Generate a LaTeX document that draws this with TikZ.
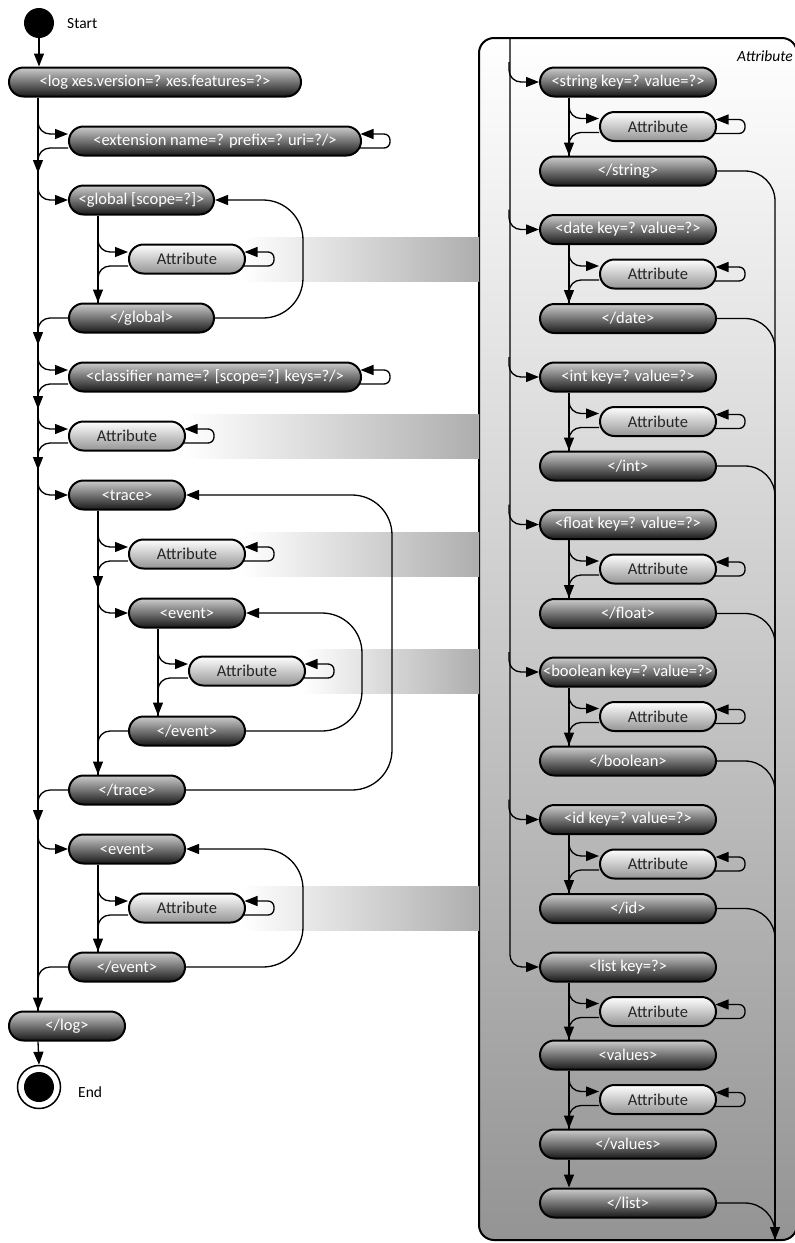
\documentclass[tikz,border=0pt]{standalone}
\usepackage{fontspec}
\setmainfont{Carlito}
\usetikzlibrary{arrows.meta,calc}
\pgfdeclarelayer{back}
\pgfdeclarelayer{bg}
\pgfsetlayers{back,bg,main}
\definecolor{bandgray}{gray}{0.68}
\newcommand\brin[2]{\draw[conn,arr] ($(#1.west)+(-30,#2-20)$) |- ($(#1.west)+(0,#2)$);}
\newcommand\brout[3]{\draw[conn,arr] ($(#1.west)+(0,#2)$) -| #3;}
\newcommand\selfloop[1]{\draw[conn,arr,rounded corners=6pt] ($(#1.east)+(-2,7)$) -- ++(30,0) -- ++(0,-14) -- ($(#1.east)+(-1.5,-7)$);}
\newcommand\bigloop[3]{\draw[conn,arr,rounded corners=40pt] (#2.east) -- (#2.east -| #3) -- (#1.east -| #3) -- (#1.east);}
\newcommand\band[2]{\shade[left color=white,right color=bandgray] (#1,#2-22) rectangle (479,#2+22);}
\begin{document}
\begin{tikzpicture}[x=1pt,y=-1pt,
 conn/.style={line width=1.3pt,rounded corners=12pt},
 arr/.style={-{Triangle[length=13pt,width=10pt]}},
 pill/.style={draw=black,line width=2pt,rounded corners=14.5pt,minimum height=29pt,inner sep=0pt,font=\fontsize{16.5}{19}\selectfont},
 dk/.style={pill,top color=black!20,bottom color=black!90,text=white},
 lt/.style={pill,top color=white,bottom color=black!42,text=black!85},
 wA/.style={minimum width=116pt}, wB/.style={minimum width=145pt},
 wC/.style={minimum width=292pt}, wD/.style={minimum width=176pt},
 lbl/.style={inner sep=0pt,font=\fontsize{15.5}{18}\selectfont}]
\useasboundingbox (0,0) rectangle (795,1243);

% ---------- left column nodes ----------
\node[circle,fill=black,minimum size=30pt,inner sep=0pt] (start) at (39,23) {};
\node[lbl,anchor=base west] (startlbl) at (67,28) {Start};
\node[dk,wC] (log) at (155,82) {<log xes.version=? xes.features=?>};
\node[dk,wC] (ext) at (215,141) {<extension name=? prefix=? uri=?/>};
\node[dk,wB] (glob) at (141.5,200) {<global [scope=?]>};
\node[lt,wA] (gattr) at (187,259) {Attribute};
\node[dk,wB] (gend) at (141.5,318) {</global>};
\node[dk,wC] (cls) at (215,377) {<classifier name=? [scope=?] keys=?/>};
\node[lt,wA] (lattr) at (127,436) {Attribute};
\node[dk,wA] (trace) at (127,495) {<trace>};
\node[lt,wA] (tattr) at (187,554) {Attribute};
\node[dk,wA] (tev) at (187,613) {<event>};
\node[lt,wA] (eattr) at (247,671) {Attribute};
\node[dk,wA] (tevend) at (187,731) {</event>};
\node[dk,wA] (traceend) at (127,790) {</trace>};
\node[dk,wA] (ev) at (127,849) {<event>};
\node[lt,wA] (evattr) at (187,908) {Attribute};
\node[dk,wA] (evend) at (127,967) {</event>};
\node[dk,wA] (logend) at (67,1026) {</log>};
\node[circle,draw=black,line width=1.5pt,fill=white,minimum size=43pt,inner sep=0pt] (end) at (39,1087) {};
\node[circle,fill=black,minimum size=30pt,inner sep=0pt] (endin) at (end.center) {};
\node[lbl,anchor=base west] (endlbl) at (78,1097) {End};

\coordinate (gx) at (303,0);
\coordinate (tx) at (392,0);
\coordinate (ex) at (362,0);
\coordinate (vx) at (303,0);
\coordinate (rtop) at (510,38);
\coordinate (rbot) at (775,1240);

% ---------- background: panel and bands ----------
\begin{pgfonlayer}{back}
\draw[line width=2pt,rounded corners=15pt,top color=white,bottom color=black!42] (479,38) rectangle (797,1240);
\band{242}{259}
\band{184}{436}
\band{242}{554}
\band{302}{671}
\band{242}{908}
\end{pgfonlayer}
\node[lbl,anchor=base east,font=\fontsize{15.5}{18}\selectfont\itshape] (plabel) at (793,61) {Attribute};

% ---------- right panel nodes ----------
\foreach \nm/\lab/\y in {string/string/82,date/date/229.5,int/int/377,float/float/524.5,boolean/boolean/672,id/id/819.5}{
  \node[dk,wD] (h\nm) at (628,\y) {<\lab\ key=? value=?>};
  \node[lt,wA] (a\nm) at (658,\y+44.5) {Attribute};
  \node[dk,wD] (c\nm) at (628,\y+89) {</\lab>};
  \begin{pgfonlayer}{bg}
  \brin{h\nm}{0}
  \draw[conn] ($(h\nm.south west)+(30,0)$) -- ($(c\nm.north west)+(30,0)$);
  \brin{a\nm}{-8}
  \brout{a\nm}{6}{($(c\nm.north west)+(30,0)$)}
  \selfloop{a\nm}
  \draw[conn,rounded corners=30pt] (c\nm.east) -| (rbot);
  \end{pgfonlayer}
}
\node[dk,wD] (hlist) at (628,967) {<list key=?>};
\node[lt,wA] (alist) at (658,1011.5) {Attribute};
\node[dk,wD] (hvalues) at (628,1055) {<values>};
\node[lt,wA] (avalues) at (658,1099.5) {Attribute};
\node[dk,wD] (cvalues) at (628,1144) {</values>};
\node[dk,wD] (clist) at (628,1203) {</list>};

% ---------- connectors ----------
\begin{pgfonlayer}{bg}
% left main line
\draw[conn,arr] (start.south) -- (start.south |- log.north);
\draw[conn] ($(log.south west)+(30,0)$) -- ($(logend.north west)+(30,0)$);
\brin{ext}{-7}
\brout{ext}{7}{($(ext.west)+(-30,32)$)}
\selfloop{ext}
\brin{glob}{0}
\draw[conn] ($(glob.south west)+(30,0)$) -- ($(gend.north west)+(30,0)$);
\brin{gattr}{-7}
\brout{gattr}{7}{($(gend.north west)+(30,0)$)}
\selfloop{gattr}
\brout{gend}{0}{($(gend.west)+(-30,27)$)}
\bigloop{glob}{gend}{gx}
\brin{cls}{-7}
\brout{cls}{7}{($(cls.west)+(-30,32)$)}
\selfloop{cls}
\brin{lattr}{-7}
\brout{lattr}{7}{($(lattr.west)+(-30,34)$)}
\selfloop{lattr}
\brin{trace}{0}
\draw[conn] ($(trace.south west)+(30,0)$) -- ($(traceend.north west)+(30,0)$);
\brin{tattr}{-7}
\brout{tattr}{7}{($(tattr.west)+(-30,35)$)}
\selfloop{tattr}
\brin{tev}{0}
\draw[conn] ($(tev.south west)+(30,0)$) -- ($(tevend.north west)+(30,0)$);
\brin{eattr}{-7}
\brout{eattr}{7}{($(tevend.north west)+(30,0)$)}
\selfloop{eattr}
\brout{tevend}{0}{($(traceend.north west)+(30,0)$)}
\bigloop{tev}{tevend}{ex}
\brout{traceend}{0}{($(traceend.west)+(-30,33)$)}
\bigloop{trace}{traceend}{tx}
\brin{ev}{0}
\draw[conn] ($(ev.south west)+(30,0)$) -- ($(evend.north west)+(30,0)$);
\brin{evattr}{-7}
\brout{evattr}{7}{($(evend.north west)+(30,0)$)}
\selfloop{evattr}
\brout{evend}{0}{($(logend.north west)+(30,0)$)}
\bigloop{ev}{evend}{vx}
\draw[conn,arr] ($(logend.south west)+(30,0)$) -- (end.north);
% right panel
\draw[conn,arr] (rtop) |- (hlist.west);
\draw[conn] ($(hlist.south west)+(30,0)$) -- ($(hvalues.north west)+(30,0)$);
\brin{alist}{-8}
\brout{alist}{6}{($(hvalues.north west)+(30,0)$)}
\selfloop{alist}
\draw[conn] ($(hvalues.south west)+(30,0)$) -- ($(cvalues.north west)+(30,0)$);
\brin{avalues}{-8}
\brout{avalues}{6}{($(cvalues.north west)+(30,0)$)}
\selfloop{avalues}
\draw[conn,arr] ($(cvalues.south west)+(30,0)$) -- ($(clist.north west)+(30,0)$);
\draw[conn,arr,rounded corners=30pt] (clist.east) -| (rbot);
\end{pgfonlayer}
\end{tikzpicture}
\end{document}
